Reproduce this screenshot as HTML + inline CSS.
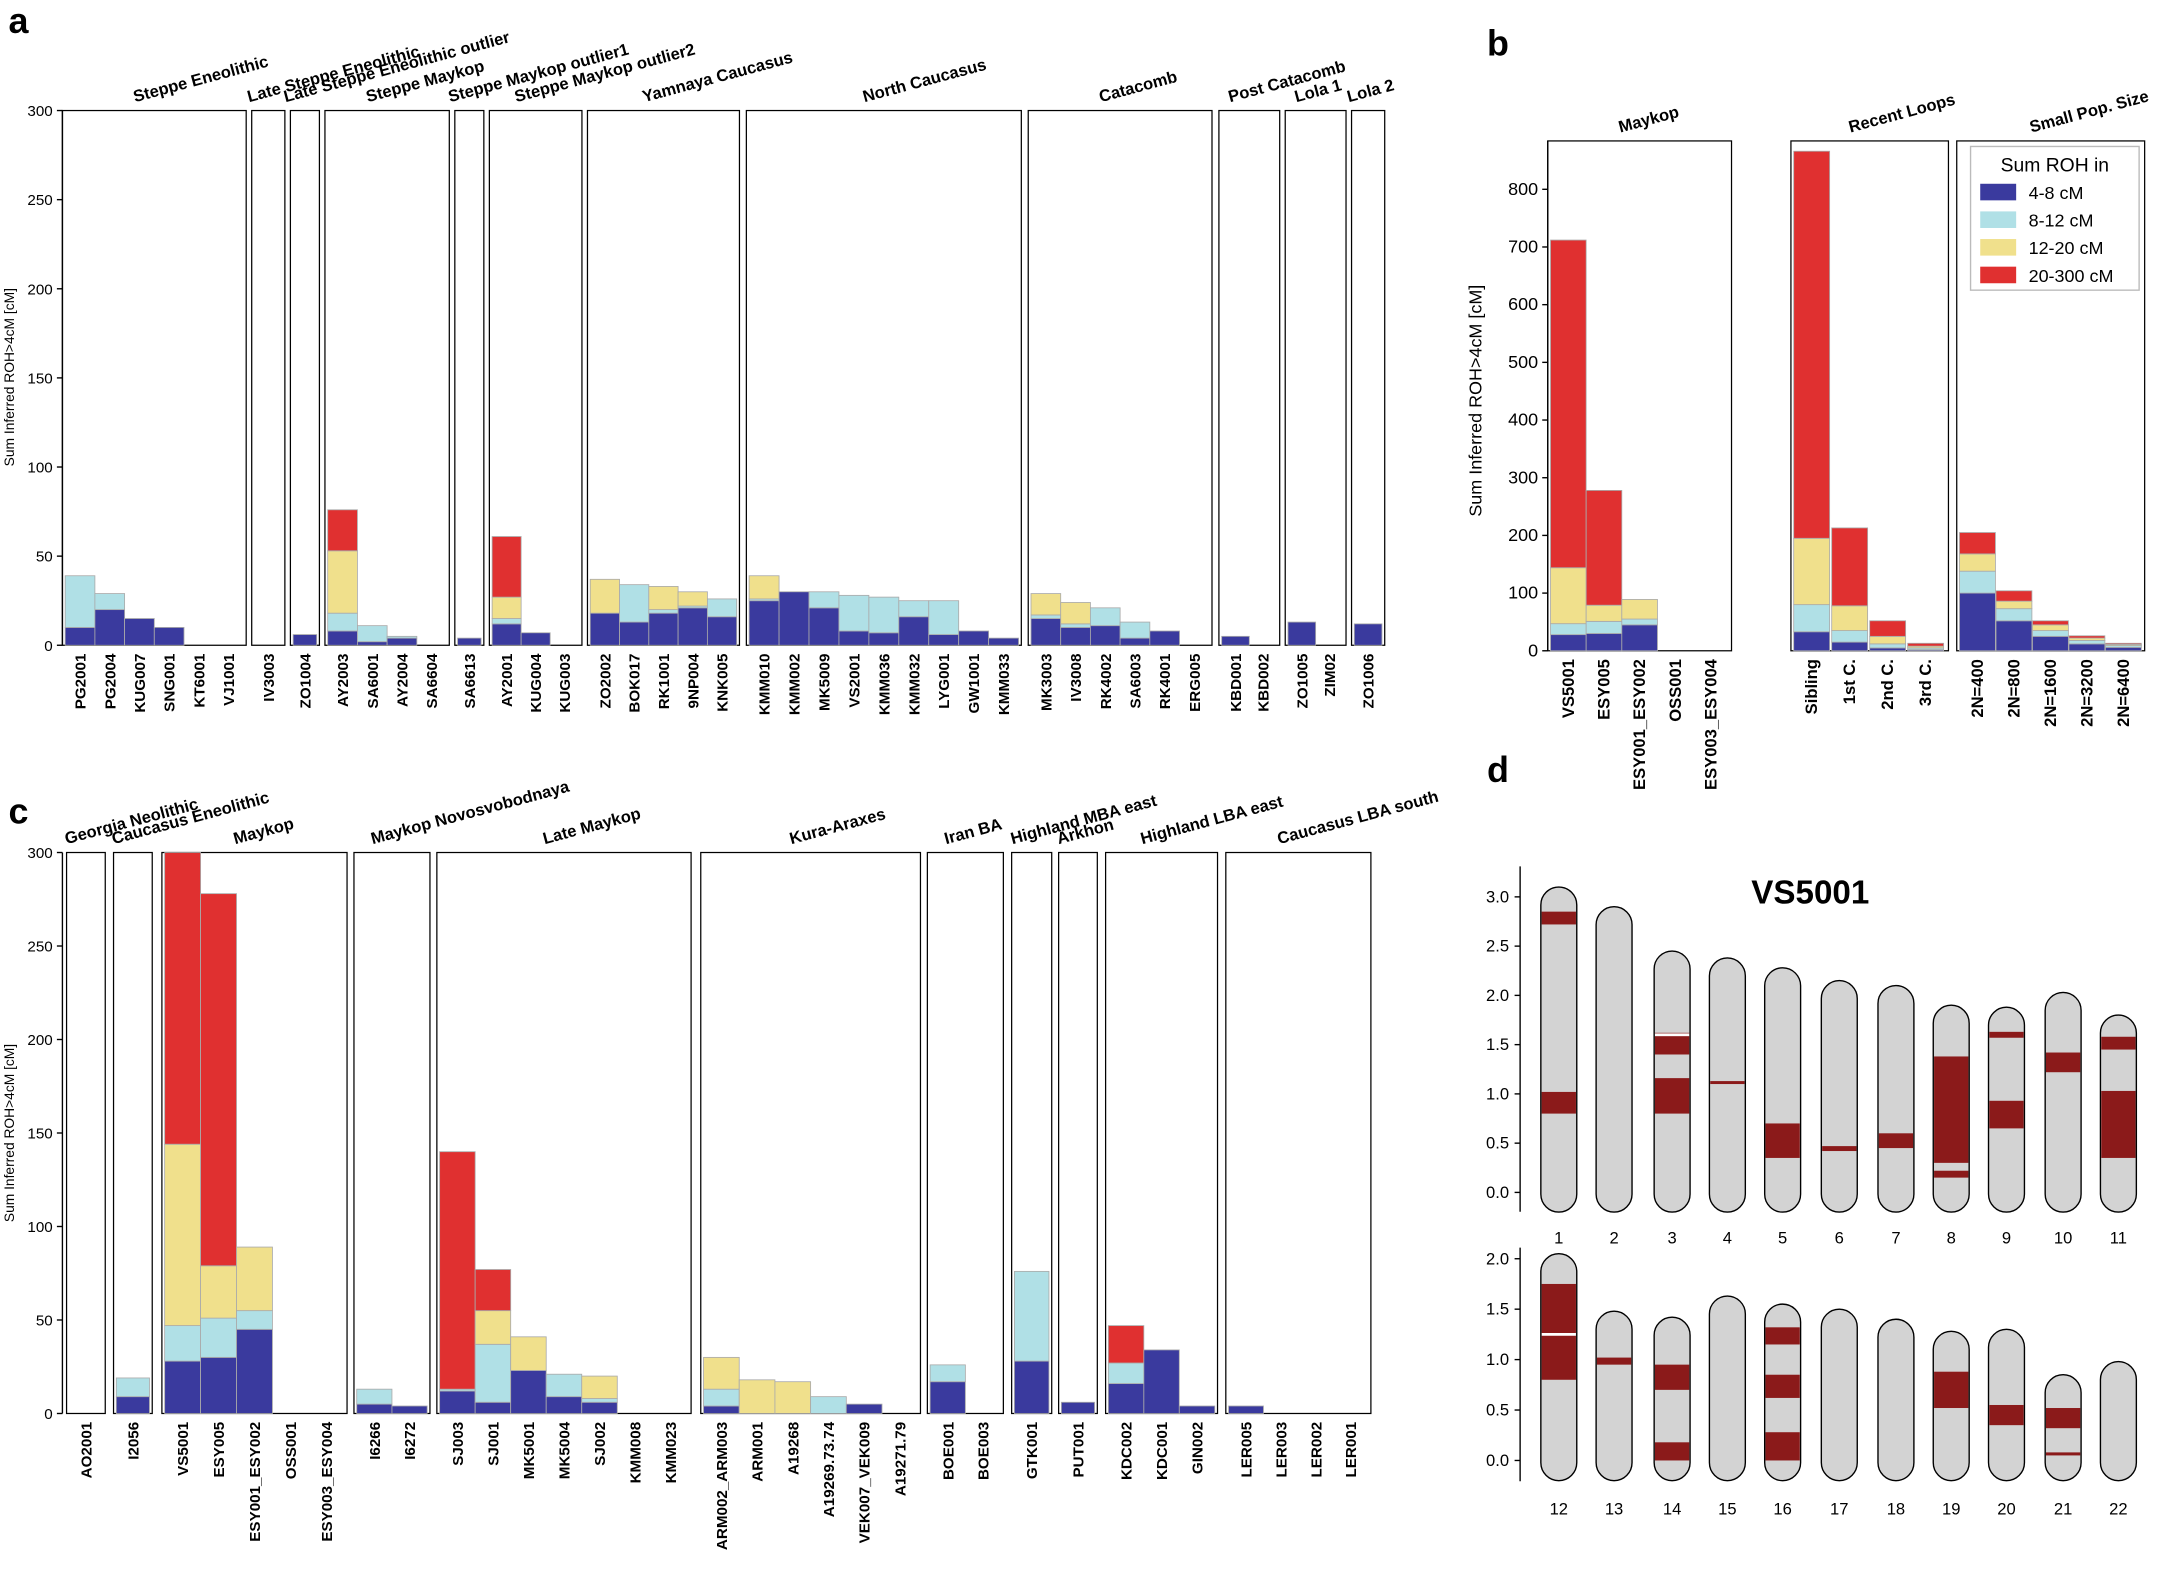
<!DOCTYPE html>
<html><head><meta charset="utf-8">
<style>
html,body{margin:0;padding:0;background:#fff;}
svg{display:block;font-family:"Liberation Sans",Arial,sans-serif;}
</style></head>
<body>
<svg id="s" xmlns="http://www.w3.org/2000/svg" width="2167" height="1571" viewBox="0 0 1568 1137"></svg>
<script>
var S=document.getElementById('s'),out='';
function el(t,a,txt){var s='<'+t;for(var k in a)s+=' '+k+'="'+a[k]+'"';s+= txt!==undefined?'>'+txt+'</'+t+'>':'/>';out+=s;}
var COL=['#3a3a9e','#b0e0e6','#f0e08c','#e03030'];
function panel(c){
  var y0=c.base,sc=c.sc;
  el('line',{x1:c.x0,y1:c.top,x2:c.x0,y2:y0,stroke:'#000','stroke-width':1});
  c.ticks.forEach(function(t){var y=y0-t*sc;el('line',{x1:c.x0-4,y1:y,x2:c.x0,y2:y,stroke:'#000'});
    el('text',{x:c.x0-7,y:y+4,'font-size':c.tfs,'text-anchor':'end'},t);});
  el('text',{x:c.ylx,y:c.yly,'font-size':c.yfs,'text-anchor':'middle',transform:'rotate(-90 '+c.ylx+' '+c.yly+')'},'Sum Inferred ROH&gt;4cM [cM]');
  c.groups.forEach(function(g){
    var W=g[1]-g[0];
    el('rect',{x:g[0],y:c.top,width:W,height:y0-c.top,fill:'none',stroke:'#000','stroke-width':0.9});
    var cx=(g[0]+g[1])/2-14;
    el('text',{x:cx,y:c.top-6,'font-size':c.gfs,'font-weight':'bold',transform:'rotate(-15 '+cx+' '+(c.top-6)+')'},g[2]);
    var n=g[3].length,slot=(W-4)/n,bw=Math.min(slot,c.maxw||99);
    g[3].forEach(function(sm,i){
      var bx=g[0]+2+i*slot,prev=0;
      for(var k=1;k<=4;k++){var v=sm[k]||0;if(v>prev){var yt=Math.max(c.top,y0-v*sc),yb=y0-prev*sc;
        if(yb>yt)el('rect',{x:bx,y:yt,width:bw,height:yb-yt,fill:COL[k-1],stroke:'#aaa','stroke-width':0.6});prev=v;}}
      var lx=bx+bw/2+4,ly=y0+6;
      el('text',{x:lx,y:ly,'font-size':c.lfs,'font-weight':'bold','text-anchor':'end',transform:'rotate(-90 '+lx+' '+ly+')'},sm[0]);
    });
  });
}
panel({x0:45,base:467,top:80,sc:387/300,ticks:[0,50,100,150,200,250,300],tfs:11,yfs:10,ylx:10,yly:273,gfs:12,lfs:11,groups:[
[45,178,'Steppe Eneolithic',[['PG2001',10,39],['PG2004',20,29],['KUG007',15],['SNG001',10],['KT6001'],['VJ1001']]],
[182,206,'Late Steppe Eneolithic',[['IV3003']]],
[210,231,'Late Steppe Eneolithic outlier',[['ZO1004',6]]],
[235,325,'Steppe Maykop',[['AY2003',8,18,53,76],['SA6001',2,11],['AY2004',4,5],['SA6604']]],
[329,350,'Steppe Maykop outlier1',[['SA6613',4]]],
[354,421,'Steppe Maykop outlier2',[['AY2001',12,15,27,61],['KUG004',7],['KUG003']]],
[425,535,'Yamnaya Caucasus',[['ZO2002',18,18,37],['BOK017',13,34],['RK1001',18,20,33],['9NP004',21,22,30],['KNK005',16,26]]],
[540,739,'North Caucasus',[['KMM010',25,26,39],['KMM002',30],['MK5009',21,30],['VS2001',8,28],['KMM036',7,27],['KMM032',16,25],['LYG001',6,25],['GW1001',8],['KMM033',4]]],
[744,877,'Catacomb',[['MK3003',15,17,29],['IV3008',10,12,24],['RK4002',11,21],['SA6003',4,13],['RK4001',8],['ERG005']]],
[882,926,'Post Catacomb',[['KBD001',5],['KBD002']]],
[930,974,'Lola 1',[['ZO1005',13],['ZIM02']]],
[978,1002,'Lola 2',[['ZO1006',12]]]
]});
panel({x0:45,base:1023,top:617,sc:406/300,ticks:[0,50,100,150,200,250,300],tfs:11,yfs:10,ylx:10,yly:820,gfs:12,lfs:11,groups:[
[48,76,'Georgia Neolithic',[['AO2001']]],
[82,110,'Caucasus Eneolithic',[['I2056',9,19]]],
[117,251,'Maykop',[['VS5001',28,47,144,712],['ESY005',30,51,79,278],['ESY001_ESY002',45,55,89],['OSS001'],['ESY003_ESY004']]],
[256,311,'Maykop Novosvobodnaya',[['I6266',5,13],['I6272',4]]],
[316,500,'Late Maykop',[['SJ003',12,13,13,140],['SJ001',6,37,55,77],['MK5001',23,23,41],['MK5004',9,21],['SJ002',6,8,20],['KMM008'],['KMM023']]],
[507,666,'Kura-Araxes',[['ARM002_ARM003',4,13,30],['ARM001',0,0,18],['A19268',0,0,17],['A19269.73.74',0,9],['VEK007_VEK009',5],['A19271.79']]],
[671,726,'Iran BA',[['BOE001',17,26],['BOE003']]],
[732,761,'Highland MBA east',[['GTK001',28,76]]],
[766,794,'Arkhon',[['PUT001',6]]],
[800,881,'Highland LBA east',[['KDC002',16,27,27,47],['KDC001',34],['GIN002',4]]],
[887,992,'Caucasus LBA south',[['LER005',4],['LER003'],['LER002'],['LER001']]]
]});
panel({x0:1120,base:471,top:102,sc:334/800,ticks:[0,100,200,300,400,500,600,700,800],tfs:13,yfs:13,ylx:1072,yly:290,gfs:12,lfs:12,maxw:26,groups:[
[1120,1253,'Maykop',[['VS5001',28,47,144,712],['ESY005',30,51,79,278],['ESY001_ESY002',45,55,89],['OSS001'],['ESY003_ESY004']]],
[1296,1410,'Recent Loops',[['Sibling',33,80,195,866],['1st C.',15,35,78,213],['2nd C.',5,12,25,52],['3rd C.',2,5,8,13]]],
[1416,1552,'Small Pop. Size',[['2N=400',100,138,168,205],['2N=800',52,73,86,104],['2N=1600',25,35,45,52],['2N=3200',12,18,22,26],['2N=6400',6,9,11,13]]]
]});
el('rect',{x:1426,y:106,width:122,height:104,fill:'#fff',stroke:'#bbb'});
el('text',{x:1487,y:124,'font-size':14,'text-anchor':'middle'},'Sum ROH in');
['4-8 cM','8-12 cM','12-20 cM','20-300 cM'].forEach(function(t,i){var y=133+i*20;
 el('rect',{x:1433,y:y,width:26,height:12,fill:COL[i]});el('text',{x:1468,y:y+11,'font-size':13},t);});
el('text',{x:6,y:24,'font-size':26,'font-weight':'bold'},'a');
el('text',{x:1076,y:40,'font-size':26,'font-weight':'bold'},'b');
el('text',{x:6,y:596,'font-size':26,'font-weight':'bold'},'c');
el('text',{x:1076,y:566,'font-size':26,'font-weight':'bold'},'d');
el('text',{x:1310,y:654,'font-size':24,'font-weight':'bold','text-anchor':'middle'},'VS5001');
var XS=[1128,1168,1210,1250,1290,1331,1372,1412,1452,1493,1533];
function chroms(o){
  el('line',{x1:1100,y1:o.ax0,x2:1100,y2:o.ax1,stroke:'#000'});
  o.ticks.forEach(function(t){var y=o.z-t*o.sc;el('line',{x1:1096,y1:y,x2:1100,y2:y,stroke:'#000'});
    el('text',{x:1092,y:y+4,'font-size':12,'text-anchor':'end'},t.toFixed(1));});
  o.ch.forEach(function(c,i){var x=XS[i]-13,yt=o.z-c[1]*o.sc,yb=o.z+0.2*o.sc;
    el('rect',{x:x,y:yt,width:26,height:yb-yt,rx:13,ry:13,fill:'#d3d3d3',stroke:'#000','stroke-width':1});
    (c[2]||[]).forEach(function(s){var a=o.z-s[1]*o.sc,b=o.z-s[0]*o.sc;el('rect',{x:x+0.6,y:a,width:24.8,height:b-a,fill:'#8b1a1a'});});
    (c[3]||[]).forEach(function(w){var a=o.z-w*o.sc;el('rect',{x:x+0.6,y:a-1,width:24.8,height:2,fill:'#fff'});});
    el('text',{x:XS[i],y:o.ly,'font-size':12,'text-anchor':'middle'},c[0]);});
}
chroms({z:863,sc:71.3,ax0:627,ax1:877,ly:900,ticks:[0,0.5,1,1.5,2,2.5,3],ch:[
[1,3.1,[[2.72,2.85],[0.8,1.02]]],[2,2.9],[3,2.45,[[1.4,1.62],[0.8,1.16]],[1.6]],[4,2.38,[[1.1,1.13]]],
[5,2.28,[[0.35,0.7]]],[6,2.15,[[0.42,0.47]]],[7,2.1,[[0.45,0.6]]],[8,1.9,[[0.3,1.38],[0.15,0.22]]],
[9,1.88,[[1.57,1.63],[0.65,0.93]]],[10,2.03,[[1.22,1.42]]],[11,1.8,[[1.45,1.58],[0.35,1.03]]]]});
chroms({z:1057,sc:73,ax0:903,ax1:1072,ly:1096,ticks:[0,0.5,1,1.5,2],ch:[
[12,2.05,[[0.8,1.75]],[1.25]],[13,1.48,[[0.95,1.02]]],[14,1.42,[[0.7,0.95],[0,0.18]]],[15,1.63],
[16,1.55,[[1.15,1.32],[0.62,0.85],[0,0.28]]],[17,1.5],[18,1.4],[19,1.28,[[0.52,0.88]]],[20,1.3,[[0.35,0.55]]],
[21,0.85,[[0.32,0.52],[0.05,0.08]]],[22,0.98]]});
S.innerHTML=out;
</script>
</body></html>
